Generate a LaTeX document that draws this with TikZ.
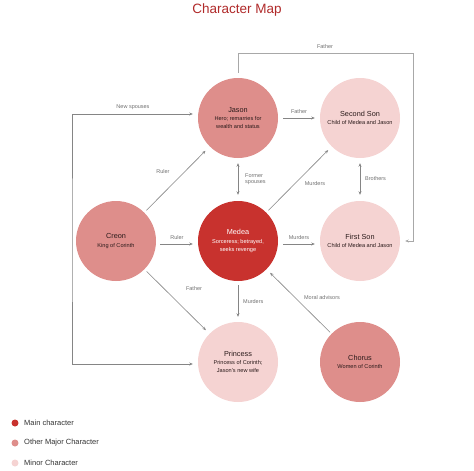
\documentclass[tikz,border=0pt]{standalone}
\usepackage{fontspec}
\setmainfont{Liberation Sans}
\usetikzlibrary{arrows.meta}
\definecolor{mainc}{HTML}{C8322E}
\definecolor{majorc}{HTML}{DE8E8B}
\definecolor{minorc}{HTML}{F5D3D2}
\definecolor{titlec}{HTML}{B02A2A}
\definecolor{linec}{HTML}{858585}
\definecolor{flinec}{HTML}{A8A8A8}
\definecolor{labelc}{HTML}{707070}
\definecolor{textc}{HTML}{2A1A1A}
\definecolor{legc}{HTML}{333333}
\newcommand{\ctitle}[1]{{\fontsize{7.3}{8.2}\selectfont #1}}
\begin{document}
\begin{tikzpicture}[x=1pt,y=-1pt,
  char/.style={circle,minimum size=80pt,inner sep=0pt,align=center,text=textc,
    font=\fontsize{5.6}{8.2}\selectfont},
  mainchar/.style={char,fill=mainc,text=white},
  majorchar/.style={char,fill=majorc},
  minorchar/.style={char,fill=minorc},
  tip/.tip={Stealth[length=3.5pt,width=3pt]},
  conn/.style={draw=linec,line width=0.6pt,-tip},
  biconn/.style={draw=linec,line width=0.6pt,tip-tip},
  elabel/.style={font=\fontsize{5.5}{6.5}\selectfont,text=labelc,inner sep=1pt},
  legdot/.style={circle,minimum size=7pt,inner sep=0pt},
  legtext/.style={anchor=west,font=\fontsize{7.5}{9}\selectfont,text=legc,inner sep=0pt},
  ]
\useasboundingbox (0,0) rectangle (474,471);

\node[font=\fontsize{13.5}{15}\selectfont,text=titlec] (title) at (237,10) {Character Map};

\node[majorchar] (jason) at (238,118) {\ctitle{Jason}\\Hero; remarries for\\wealth and status};
\node[minorchar] (second) at (360,118) {\ctitle{Second Son}\\Child of Medea and Jason};
\node[majorchar] (creon) at (116,241) {\ctitle{Creon}\\King of Corinth};
\node[mainchar] (medea) at (238,241) {\ctitle{Medea}\\Sorceress; betrayed,\\seeks revenge};
\node[minorchar] (first) at (360,241) {\ctitle{First Son}\\Child of Medea and Jason};
\node[minorchar] (princess) at (238,362) {\ctitle{Princess}\\Princess of Corinth;\\Jason's new wife};
\node[majorchar] (chorus) at (360,362) {\ctitle{Chorus}\\Women of Corinth};

\coordinate (ftop) at (413,53);
\coordinate (nsx) at (72,241);

% Father (top loop)
\draw[conn,draw=flinec,line width=0.8pt] ([yshift=5pt]jason.north) |- (ftop) |- ([xshift=5pt]first.east);
\node[elabel] (lfather1) at (325,47) {Father};

% New spouses
\draw[biconn] ([shift={(-5pt,4pt)}]jason.west) -| (nsx) |- ([shift={(-5pt,-2pt)}]princess.west);
\node[elabel] (lnew) at (133,107) {New spouses};

% Jason -> Second Son
\draw[conn,shorten <=5pt,shorten >=5pt] (jason.east) -- (second.west);
\node[elabel] (lfather2) at (299,112) {Father};

% Creon -> Jason
\draw[conn,shorten <=3pt,shorten >=6pt] (creon) -- (jason);
\node[elabel] (lruler1) at (163,172) {Ruler};

% Jason <-> Medea
\draw[biconn,shorten <=5pt,shorten >=6pt] (jason.south) -- (medea.north);
\node[elabel,align=left,anchor=west] (lformer) at (244,179) {Former\\spouses};

% Medea -> Second Son
\draw[conn,shorten <=3pt,shorten >=5pt] (medea) -- (second);
\node[elabel] (lmurd1) at (315,184) {Murders};

% Second <-> First
\draw[biconn,shorten <=5pt,shorten >=6pt] (second.south) -- (first.north);
\node[elabel,anchor=west] (lbro) at (364,179) {Brothers};

% Creon -> Medea
\draw[conn,shorten <=4pt,shorten >=5pt] ([yshift=-3pt]creon.east) -- ([yshift=-3pt]medea.west);
\node[elabel] (lruler2) at (177,238) {Ruler};

% Medea -> First
\draw[conn,shorten <=5pt,shorten >=5pt] ([yshift=-3pt]medea.east) -- ([yshift=-3pt]first.west);
\node[elabel] (lmurd2) at (299,238) {Murders};

% Creon -> Princess
\draw[conn,shorten <=3pt,shorten >=5pt] (creon) -- (princess);
\node[elabel] (lfather3) at (194,289) {Father};

% Medea -> Princess
\draw[conn,shorten <=4pt,shorten >=5pt] (medea.south) -- (princess.north);
\node[elabel,anchor=west] (lmurd3) at (242,302) {Murders};

% Chorus -> Medea
\draw[conn,shorten <=2pt,shorten >=5pt] (chorus) -- (medea);
\node[elabel] (lmoral) at (322,298) {Moral advisors};

% Legend
\node[legdot,fill=mainc] (d1) at (15,423) {};
\node[legtext] (t1) at (24,423) {Main character};
\node[legdot,fill=majorc] (d2) at (15,443) {};
\node[legtext] (t2) at (24,443) {Other Major Character};
\node[legdot,fill=minorc] (d3) at (15,463) {};
\node[legtext] (t3) at (24,463) {Minor Character};
\end{tikzpicture}
\end{document}
